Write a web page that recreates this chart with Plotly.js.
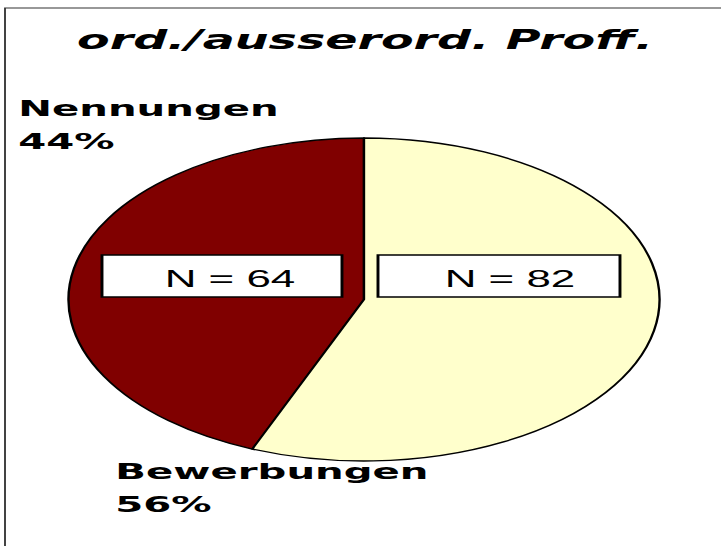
<!DOCTYPE html>
<html>
<head>
<meta charset="utf-8">
<script src="https://cdn.plot.ly/plotly-3.0.1.min.js"></script>
<style>
  html, body { margin: 0; padding: 0; background: #fff; overflow: hidden; }
  #chart { width: 394px; height: 546px; transform: scaleX(1.8299); transform-origin: 0 0; }
</style>
</head>
<body>
<div id="chart"></div>
<script>
// Data
const categories = ["Nennungen", "Bewerbungen"];
const counts = [64, 82];
const percentLabels = ["44%", "56%"];
const countLabels = ["N = 64", "N = 82"];
const titleText = "ord./ausserord. Proff.";
const colors = ["#800000", "#FFFFCC"];

// final-picture pixel -> paper coordinates
const FW = 721, FH = 546;
const px = x => x / FW;
const py = y => 1 - y / FH;

// first slice ends at 12 o'clock, lying on the left side
const total = counts.reduce((a, b) => a + b, 0);
const startRotation = 360 - 360 * counts[0] / total;

const pie = {
  type: "pie",
  labels: categories,
  values: counts,
  sort: false,
  direction: "clockwise",
  rotation: startRotation,
  textinfo: "none",
  hoverinfo: "none",
  showlegend: false,
  marker: { colors: colors, line: { color: "#000", width: 1.3 } },
  domain: { x: [px(68), px(660)], y: [py(461), py(138)] }
};

const labelFont = { family: "DejaVu Sans", size: 22, color: "#000", weight: "bold" };
const nFont = { family: "Liberation Sans, Arial", size: 24, color: "#000" };

const annotations = [
  { text: categories[0], x: px(15), y: py(109), xanchor: "left", yanchor: "middle", font: labelFont },
  { text: percentLabels[0], x: px(15), y: py(142), xanchor: "left", yanchor: "middle", font: labelFont },
  { text: categories[1], x: px(111), y: py(471), xanchor: "left", yanchor: "middle", font: labelFont },
  { text: percentLabels[1], x: px(111), y: py(504), xanchor: "left", yanchor: "middle", font: labelFont },
  { text: countLabels[0], x: px(230), y: py(278), xanchor: "center", yanchor: "middle", font: nFont },
  { text: countLabels[1], x: px(509), y: py(278), xanchor: "center", yanchor: "middle", font: nFont }
].map(a => Object.assign({ xref: "paper", yref: "paper", showarrow: false }, a));

const shapes = [
  { type: "rect", xref: "paper", yref: "paper", x0: px(102), x1: px(342), y0: py(297), y1: py(255),
    fillcolor: "#fff", line: { color: "#000", width: 1.6 } },
  { type: "rect", xref: "paper", yref: "paper", x0: px(378), x1: px(620), y0: py(297), y1: py(255),
    fillcolor: "#fff", line: { color: "#000", width: 1.6 } },
  // chart frame (extends beyond right/bottom edges)
  { type: "rect", xref: "paper", yref: "paper", x0: px(5), x1: px(740), y0: py(560), y1: py(8),
    fillcolor: "rgba(0,0,0,0)", line: { color: "#333", width: 1 } }
];

const layout = {
  width: 394, height: 546,
  margin: { l: 0, r: 0, t: 0, b: 0 },
  paper_bgcolor: "#fff",
  title: { text: titleText, x: px(365), xanchor: "center", y: py(40), yanchor: "middle",
           font: { family: "DejaVu Sans", size: 26, color: "#000", weight: "bold", style: "italic" } },
  annotations: annotations,
  shapes: shapes
};

Plotly.newPlot("chart", [pie], layout, { staticPlot: true, displayModeBar: false });
</script>
</body>
</html>
